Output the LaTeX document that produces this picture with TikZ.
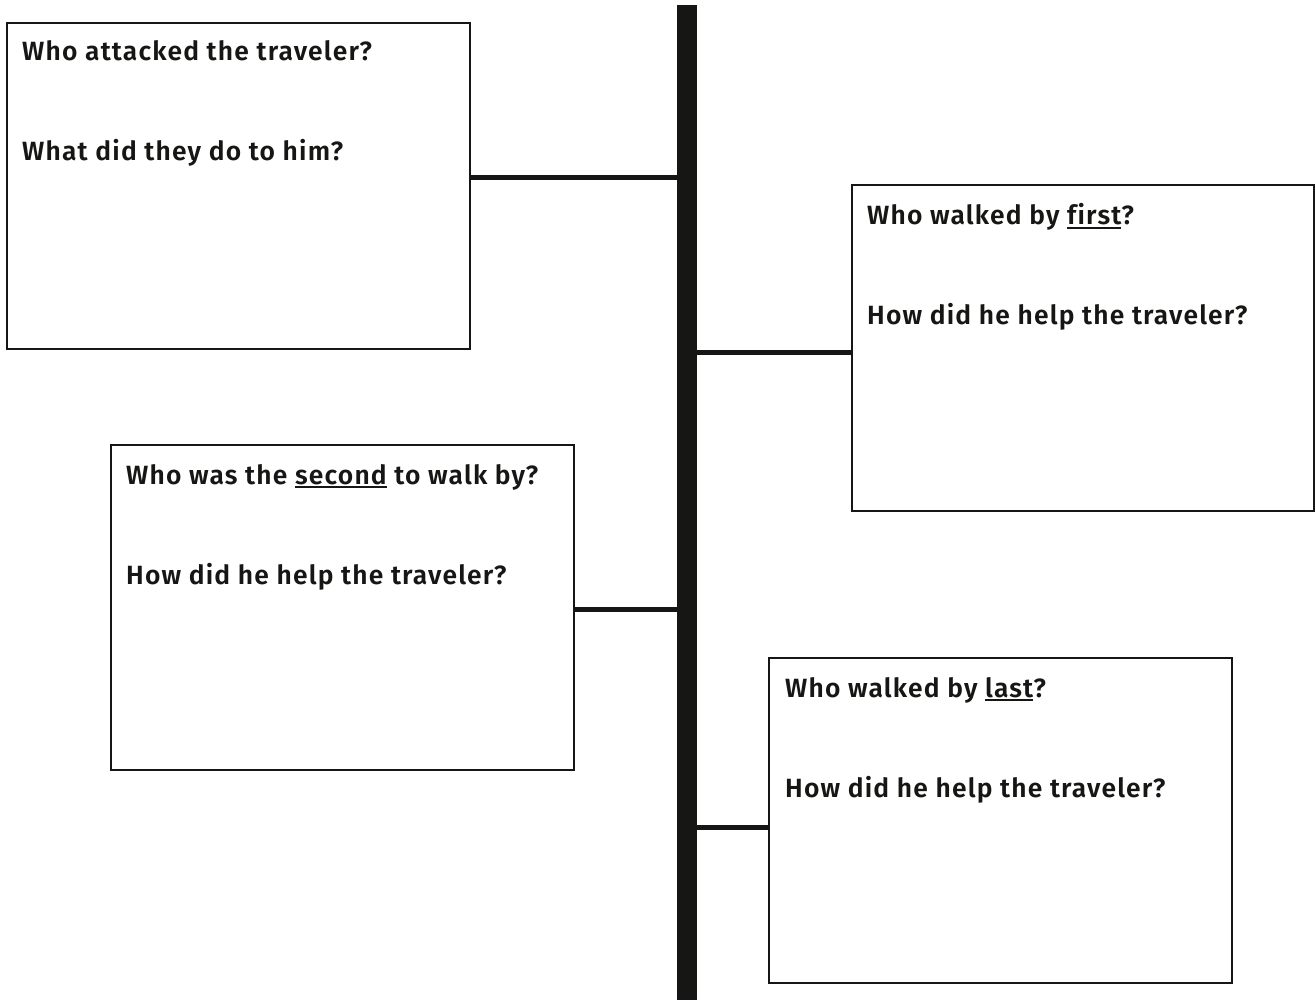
\documentclass[tikz,border=0pt]{standalone}
\usepackage{fontspec}
\setmainfont{Fira Sans}[UprightFont=* SemiBold,Ligatures=NoCommon,LetterSpace=4.5]
\newcommand\ulx[1]{\setbox0\hbox{#1}\rlap{\rule[-4pt]{\wd0}{1.8pt}}\box0\relax}
\definecolor{ink}{HTML}{161614}
\begin{document}
\begin{tikzpicture}[x=1pt,y=-1pt,
  qbox/.style={draw=ink,line width=2pt,inner sep=0pt,outer sep=0pt,anchor=north west,minimum width=#1},
  qbox/.default=463pt,
  txt/.style={anchor=base west,inner sep=0pt,text=ink,font=\fontsize{26.4}{30}\selectfont},
  conn/.style={draw=ink,line width=5pt},
  bar/.style={fill=ink,inner sep=0pt,outer sep=0pt,minimum width=20pt,minimum height=995pt,anchor=north}]
\useasboundingbox (0,0) rectangle (1315,1000);
\node[bar] (bar) at (687,5) {};
\node[qbox,minimum height=326pt] (b1) at (7,23) {};
\node[qbox=462pt,minimum height=326pt] (b2) at (852,185) {};
\node[qbox,minimum height=325pt] (b3) at (111,445) {};
\node[qbox,minimum height=325pt] (b4) at (769,658) {};
\coordinate (c1) at (0,178);
\coordinate (c2) at (0,353);
\coordinate (c3) at (0,609);
\coordinate (c4) at (0,827);
\draw[conn] (b1.east |- c1) -- (bar.west |- c1);
\draw[conn] (bar.east |- c2) -- (b2.west |- c2);
\draw[conn] (b3.east |- c3) -- (bar.west |- c3);
\draw[conn] (bar.east |- c4) -- (b4.west |- c4);
\node[txt] (t1a) at (22,61) {Who attacked the traveler?};
\node[txt] (t1b) at (22,161) {What did they do to him?};
\node[txt] (t2a) at (867,225) {Who walked by \ulx{first}?};
\node[txt] (t2b) at (867,325) {How did he help the traveler?};
\node[txt] (t3a) at (126,484) {Who was the \ulx{second} to walk by?};
\node[txt] (t3b) at (126,584) {How did he help the traveler?};
\node[txt] (t4a) at (785,697) {Who walked by \ulx{last}?};
\node[txt] (t4b) at (785,797) {How did he help the traveler?};
\end{tikzpicture}
\end{document}
